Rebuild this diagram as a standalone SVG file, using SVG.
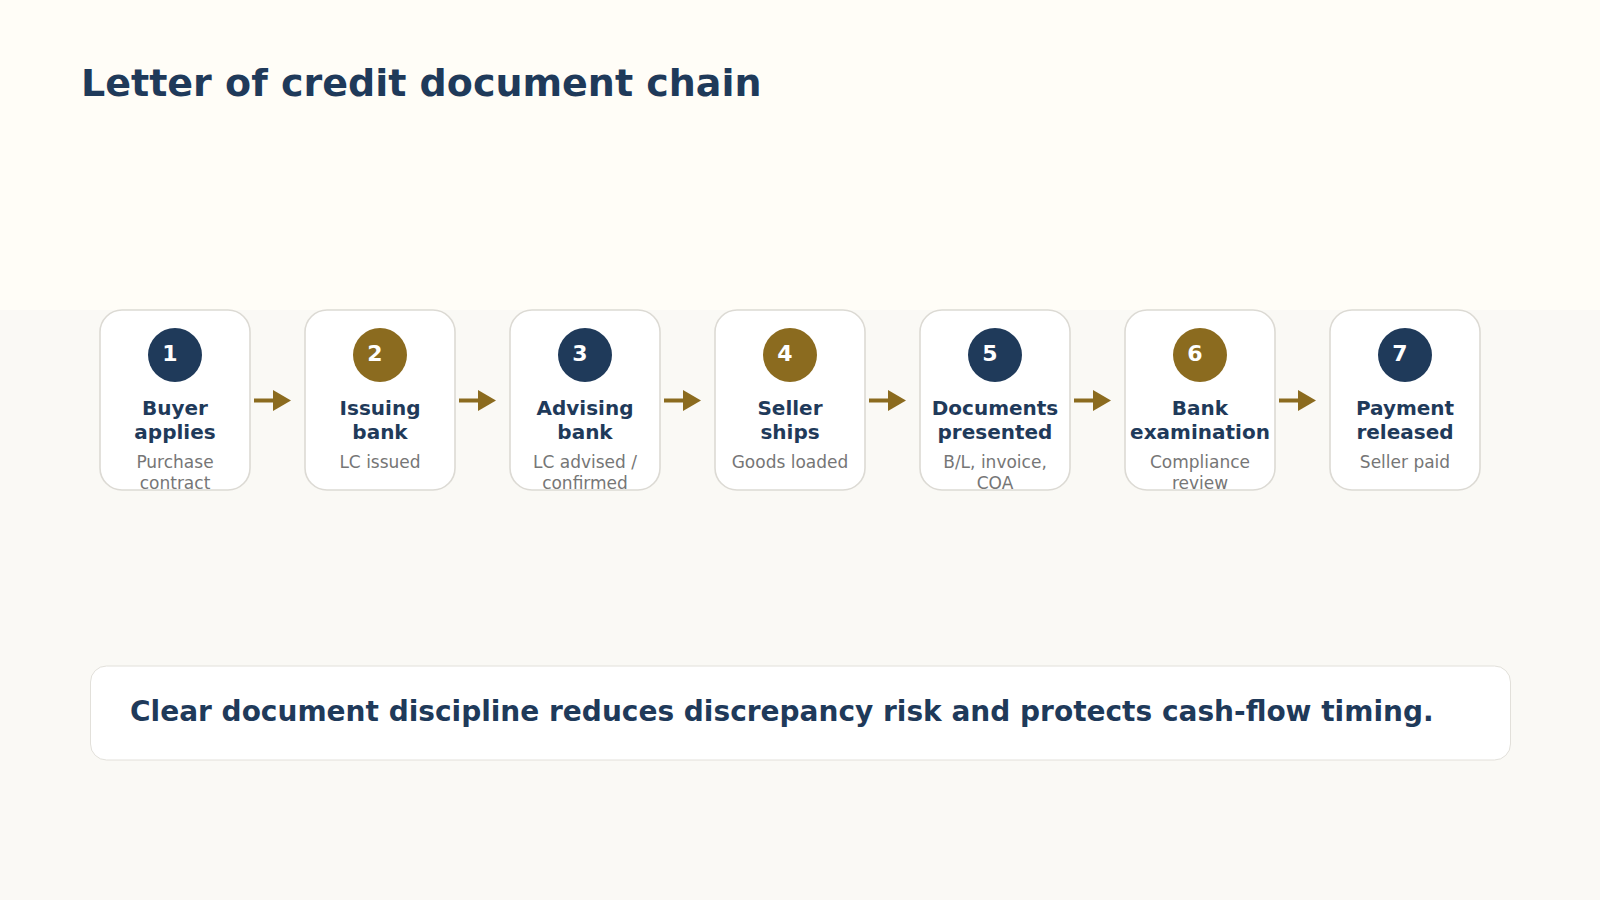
<svg xmlns="http://www.w3.org/2000/svg" width="1600" height="900" viewBox="0 0 1600 900">
<style>
.title{font-family:"DejaVu Sans",sans-serif;font-weight:bold;font-size:38px;fill:#1f3a5a}
.card{fill:#ffffff;stroke:#dcdad4;stroke-width:1.6}
.navy{fill:#1f3a5a}
.gold{fill:#8b6b1f}
.num{font-family:"DejaVu Sans",sans-serif;font-weight:bold;font-size:22px;fill:#ffffff;text-anchor:middle}
.name{font-family:"DejaVu Sans",sans-serif;font-weight:bold;font-size:20px;fill:#1f3a5a;text-anchor:middle}
.sub{font-family:"DejaVu Sans",sans-serif;font-size:17px;fill:#767676;text-anchor:middle}
.sum{font-family:"DejaVu Sans",sans-serif;font-weight:bold;font-size:28px;fill:#1f3a5a}
.line{stroke:#8b6b1f;stroke-width:4;fill:none}
.head{fill:#8b6b1f}
</style>
<rect x="0" y="0" width="1600" height="310" fill="#fffdf7"/>
<rect x="0" y="310" width="1600" height="590" fill="#faf9f5"/>
<text class="title" x="81" y="96">Letter of credit document chain</text>

<g id="connectors">
<line class="line" x1="254" y1="400.5" x2="275" y2="400.5"/><polygon class="head" points="273,390 291,400.5 273,411"/>
<line class="line" x1="459" y1="400.5" x2="480" y2="400.5"/><polygon class="head" points="478,390 496,400.5 478,411"/>
<line class="line" x1="664" y1="400.5" x2="685" y2="400.5"/><polygon class="head" points="683,390 701,400.5 683,411"/>
<line class="line" x1="869" y1="400.5" x2="890" y2="400.5"/><polygon class="head" points="888,390 906,400.5 888,411"/>
<line class="line" x1="1074" y1="400.5" x2="1095" y2="400.5"/><polygon class="head" points="1093,390 1111,400.5 1093,411"/>
<line class="line" x1="1279" y1="400.5" x2="1300" y2="400.5"/><polygon class="head" points="1298,390 1316,400.5 1298,411"/>
</g>

<g id="step1">
<rect class="card" x="100" y="310" width="150" height="180" rx="22"/>
<circle class="navy" cx="175" cy="355" r="27"/>
<text class="num" x="170" y="361">1</text>
<text class="name" x="175" y="415">Buyer</text>
<text class="name" x="175" y="439">applies</text>
<text class="sub" x="175" y="468">Purchase</text>
<text class="sub" x="175" y="489">contract</text>
</g>
<g id="step2">
<rect class="card" x="305" y="310" width="150" height="180" rx="22"/>
<circle class="gold" cx="380" cy="355" r="27"/>
<text class="num" x="375" y="361">2</text>
<text class="name" x="380" y="415">Issuing</text>
<text class="name" x="380" y="439">bank</text>
<text class="sub" x="380" y="468">LC issued</text>
</g>
<g id="step3">
<rect class="card" x="510" y="310" width="150" height="180" rx="22"/>
<circle class="navy" cx="585" cy="355" r="27"/>
<text class="num" x="580" y="361">3</text>
<text class="name" x="585" y="415">Advising</text>
<text class="name" x="585" y="439">bank</text>
<text class="sub" x="585" y="468">LC advised /</text>
<text class="sub" x="585" y="489">confirmed</text>
</g>
<g id="step4">
<rect class="card" x="715" y="310" width="150" height="180" rx="22"/>
<circle class="gold" cx="790" cy="355" r="27"/>
<text class="num" x="785" y="361">4</text>
<text class="name" x="790" y="415">Seller</text>
<text class="name" x="790" y="439">ships</text>
<text class="sub" x="790" y="468">Goods loaded</text>
</g>
<g id="step5">
<rect class="card" x="920" y="310" width="150" height="180" rx="22"/>
<circle class="navy" cx="995" cy="355" r="27"/>
<text class="num" x="990" y="361">5</text>
<text class="name" x="995" y="415">Documents</text>
<text class="name" x="995" y="439">presented</text>
<text class="sub" x="995" y="468">B/L, invoice,</text>
<text class="sub" x="995" y="489">COA</text>
</g>
<g id="step6">
<rect class="card" x="1125" y="310" width="150" height="180" rx="22"/>
<circle class="gold" cx="1200" cy="355" r="27"/>
<text class="num" x="1195" y="361">6</text>
<text class="name" x="1200" y="415">Bank</text>
<text class="name" x="1200" y="439">examination</text>
<text class="sub" x="1200" y="468">Compliance</text>
<text class="sub" x="1200" y="489">review</text>
</g>
<g id="step7">
<rect class="card" x="1330" y="310" width="150" height="180" rx="22"/>
<circle class="navy" cx="1405" cy="355" r="27"/>
<text class="num" x="1400" y="361">7</text>
<text class="name" x="1405" y="415">Payment</text>
<text class="name" x="1405" y="439">released</text>
<text class="sub" x="1405" y="468">Seller paid</text>
</g>

<g id="summary">
<rect x="90.5" y="666" width="1420" height="94" rx="16" fill="#ffffff" stroke="#e2e0da" stroke-width="1"/>
<text class="sum" x="130" y="721">Clear document discipline reduces discrepancy risk and protects cash-flow timing.</text>
</g>
</svg>
